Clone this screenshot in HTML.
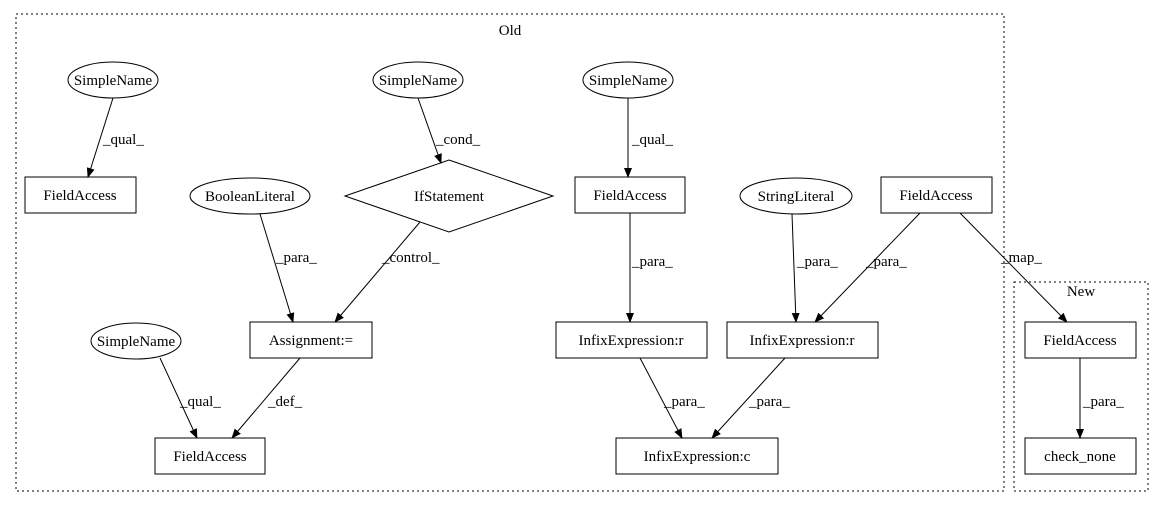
<!DOCTYPE html>
<html><head><meta charset="utf-8"><style>
html,body{margin:0;padding:0;background:#fff;width:1164px;height:508px;overflow:hidden}
text{font-family:"Liberation Serif",serif;font-size:15px;fill:#000}
</style></head><body>
<svg width="1164" height="508" viewBox="0 0 1164 508" xmlns="http://www.w3.org/2000/svg">
<defs><marker id="a" markerWidth="10" markerHeight="8" refX="9" refY="4" orient="auto" markerUnits="userSpaceOnUse"><path d="M0,0 L10,4 L0,8 z" fill="#000"/></marker></defs>
<g fill="none" stroke="#000" stroke-dasharray="2,3">
<rect x="16" y="14" width="988" height="477"/>
<rect x="1014" y="282" width="134" height="209"/>
</g>
<text x="510" y="35" text-anchor="middle">Old</text>
<text x="1081" y="296" text-anchor="middle">New</text>
<g fill="#fff" stroke="#000">
<ellipse cx="113" cy="80" rx="45" ry="18"/>
<ellipse cx="418" cy="80" rx="45" ry="18"/>
<ellipse cx="628" cy="80" rx="45" ry="18"/>
<ellipse cx="250" cy="196" rx="60" ry="18"/>
<ellipse cx="796" cy="196" rx="56" ry="18"/>
<ellipse cx="136" cy="341" rx="45" ry="18"/>
<polygon points="449,160 553,196 449,232 345,196"/>
<rect x="25" y="177" width="111" height="36"/>
<rect x="575" y="177" width="110" height="36"/>
<rect x="881" y="177" width="111" height="36"/>
<rect x="250" y="322" width="122" height="36"/>
<rect x="556" y="322" width="151" height="36"/>
<rect x="727" y="322" width="151" height="36"/>
<rect x="155" y="438" width="110" height="36"/>
<rect x="616" y="438" width="162" height="36"/>
<rect x="1025" y="322" width="111" height="36"/>
<rect x="1025" y="438" width="111" height="36"/>
</g>
<g text-anchor="middle">
<text x="113" y="85">SimpleName</text>
<text x="418" y="85">SimpleName</text>
<text x="628" y="85">SimpleName</text>
<text x="250" y="201">BooleanLiteral</text>
<text x="796" y="201">StringLiteral</text>
<text x="136" y="346">SimpleName</text>
<text x="449" y="201">IfStatement</text>
<text x="80" y="200">FieldAccess</text>
<text x="630" y="200">FieldAccess</text>
<text x="936" y="200">FieldAccess</text>
<text x="311" y="345">Assignment:=</text>
<text x="631" y="345">InfixExpression:r</text>
<text x="802" y="345">InfixExpression:r</text>
<text x="210" y="461">FieldAccess</text>
<text x="697" y="461">InfixExpression:c</text>
<text x="1080" y="345">FieldAccess</text>
<text x="1080" y="461">check_none</text>
</g>
<g stroke="#000" fill="none" marker-end="url(#a)">
<line x1="113" y1="98" x2="88" y2="177"/>
<line x1="418" y1="98" x2="441" y2="163"/>
<line x1="628" y1="98" x2="628" y2="177"/>
<line x1="630" y1="213" x2="630" y2="322"/>
<line x1="260" y1="214" x2="293" y2="322"/>
<line x1="420" y1="222" x2="335" y2="322"/>
<line x1="792" y1="214" x2="796" y2="322"/>
<line x1="920" y1="213" x2="815" y2="322"/>
<line x1="960" y1="213" x2="1067" y2="322"/>
<line x1="1080" y1="358" x2="1080" y2="438"/>
<line x1="640" y1="358" x2="682" y2="438"/>
<line x1="785" y1="358" x2="712" y2="438"/>
<line x1="160" y1="358" x2="197" y2="438"/>
<line x1="300" y1="358" x2="232" y2="438"/>
</g>
<g>
<text x="103" y="144">_qual_</text>
<text x="436" y="144">_cond_</text>
<text x="632" y="144">_qual_</text>
<text x="632" y="266">_para_</text>
<text x="276" y="262">_para_</text>
<text x="382" y="262">_control_</text>
<text x="797" y="266">_para_</text>
<text x="866" y="266">_para_</text>
<text x="1001" y="262">_map_</text>
<text x="1083" y="406">_para_</text>
<text x="664" y="406">_para_</text>
<text x="749" y="406">_para_</text>
<text x="180" y="406">_qual_</text>
<text x="268" y="406">_def_</text>
</g>
</svg>
</body></html>
